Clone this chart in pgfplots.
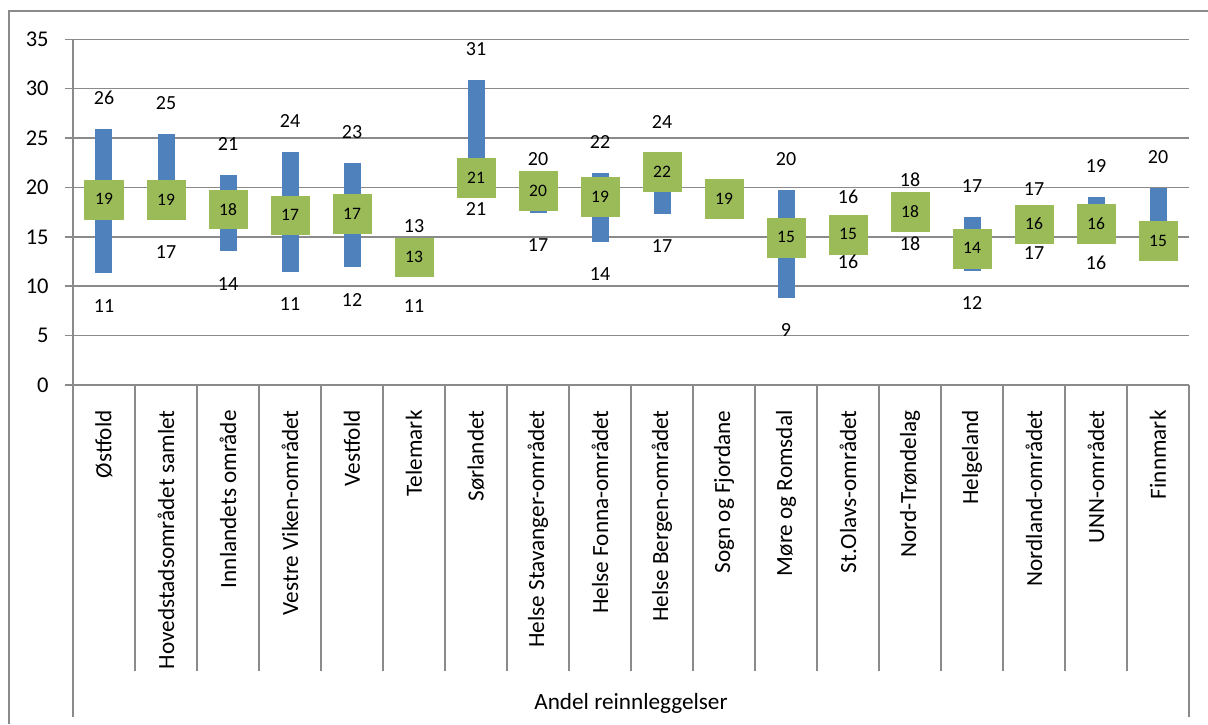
\documentclass[border=0pt]{standalone}
\usepackage{pgfplots}
\pgfplotsset{compat=1.18}
\usepackage{pgfplotstable}
\usepackage{fontspec}
\setmainfont{Carlito}
\definecolor{xlblue}{HTML}{4F81BD}
\definecolor{xlgreen}{HTML}{9BBB59}
\definecolor{xlgray}{HTML}{8A8A8A}

% ranges (low - high), Sogn og Fjordane has none
\pgfplotstableread{
x lo hi
0 11.3 25.9
1 16.7 25.4
2 13.55 21.3
3 11.45 23.55
4 11.9 22.5
5 11.25 13.0
6 21.1 30.9
7 17.4 19.7
8 14.5 21.5
9 17.3 23.5
11 8.8 19.7
12 15.8 15.95
13 17.6 17.67
14 11.55 16.97
15 16.65 16.7
16 15.7 19.0
17 15.0 19.96
}\rangetab

\pgfplotstableread{
x hi lab
0 25.9 26
1 25.4 25
2 21.3 21
3 23.55 24
4 22.5 23
5 13.0 13
6 30.9 31
7 19.7 20
8 21.5 22
9 23.5 24
11 19.7 20
12 15.95 16
13 17.67 18
14 16.97 17
15 16.7 17
16 19.0 19
17 19.96 20
}\hitab

\pgfplotstableread{
x lo lab
0 11.3 11
1 16.7 17
2 13.55 14
3 11.45 11
4 11.9 12
5 11.25 11
6 21.1 21
7 17.4 17
8 14.5 14
9 17.3 17
11 8.8 9
12 15.8 16
13 17.6 18
14 11.55 12
15 16.65 17
16 15.7 16
}\lotab

\pgfplotstableread{
x avg lab
0 18.8 19
1 18.75 19
2 17.8 18
3 17.2 17
4 17.35 17
5 12.95 13
6 21.0 21
7 19.7 20
8 19.1 19
9 21.6 22
10 18.85 19
11 14.95 15
12 15.25 15
13 17.55 18
14 13.85 14
15 16.3 16
16 16.35 16
17 14.6 15
}\avgtab

\begin{document}
\begin{tikzpicture}
\useasboundingbox (-36.5pt,-169.5pt) rectangle (567.5pt,192.5pt);
\draw[xlgray, line width=0.75pt] (-32pt,-169.5pt) -- (-32pt,187pt) -- (567.5pt,187pt);
\begin{axis}[
  at={(0,0)}, anchor=south west,
  scale only axis, width=558pt, height=172.85pt,
  xmin=-0.5, xmax=17.5, ymin=0, ymax=35,
  ytick={0,5,...,35},
  xtick={0,...,17},
  xticklabels={Østfold, Hovedstadsområdet samlet, Innlandets område, Vestre Viken-området, Vestfold, Telemark, Sørlandet, Helse Stavanger-området, Helse Fonna-området, Helse Bergen-området, Sogn og Fjordane, Møre og Romsdal, St.Olavs-området, Nord-Trøndelag, Helgeland, Nordland-området, UNN-området, Finnmark},
  axis x line=bottom, axis y line=left,
  axis line style={xlgray, line width=0.75pt, -},
  ymajorgrids, grid style={xlgray, line width=0.75pt},
  tick align=outside, major tick length=4pt,
  xtick style={draw=none},
  ytick style={xlgray, line width=0.75pt},
  tick label style={font=\fontsize{11.25}{13}\selectfont, text=black},
  /pgf/number format/assume math mode=true,
  xticklabel style={rotate=90, anchor=east, inner sep=0pt, font=\fontsize{11.6}{13}\selectfont},
  yticklabel style={anchor=east, inner sep=0pt},
  xticklabel shift=8.5pt,
  yticklabel shift=8pt,
  clip=false,
  xlabel={Andel reinnleggelser},
  xlabel style={at={(axis description cs:0.5,0)}, anchor=center, yshift=-159pt, font=\fontsize{11.6}{13}\selectfont},
]
\pgfplotsinvokeforeach{0.5,1.5,...,16.5}{
  \draw[xlgray, line width=0.75pt] (axis cs:#1,0) -- ++(0pt,-143pt);
}
\draw[xlgray, line width=0.75pt] (axis cs:-0.5,0) -- ++(0pt,-166pt);
\draw[xlgray, line width=0.75pt] (axis cs:17.5,0) -- ++(0pt,-166pt);

\addplot[draw=none, mark=none, forget plot,
  error bars/.cd, y dir=both, y explicit,
  error bar style={draw=xlblue, line width=8.5pt, line cap=butt},
  error mark=none]
  table[x=x, y expr={(\thisrow{lo}+\thisrow{hi})/2}, y error expr={(\thisrow{hi}-\thisrow{lo})/2}] {\rangetab};

\addplot[xlgreen, only marks, mark=square*, mark size=9.7pt,
  mark options={draw=xlgreen, fill=xlgreen, line width=0.1pt},
  nodes near coords, point meta=explicit symbolic,
  every node near coord/.append style={anchor=center, inner sep=0pt, text=black, font=\fontsize{8.75}{10}\selectfont}]
  table[x=x, y=avg, meta=lab] {\avgtab};

\addplot[draw=none, mark=none,
  nodes near coords, point meta=explicit symbolic,
  every node near coord/.append style={anchor=center, yshift=15.5pt, text=black, font=\fontsize{10}{12}\selectfont}]
  table[x=x, y=hi, meta=lab] {\hitab};

\addplot[draw=none, mark=none,
  nodes near coords, point meta=explicit symbolic,
  every node near coord/.append style={anchor=center, yshift=-16.2pt, text=black, font=\fontsize{10}{12}\selectfont}]
  table[x=x, y=lo, meta=lab] {\lotab};
\end{axis}
\end{tikzpicture}
\end{document}
